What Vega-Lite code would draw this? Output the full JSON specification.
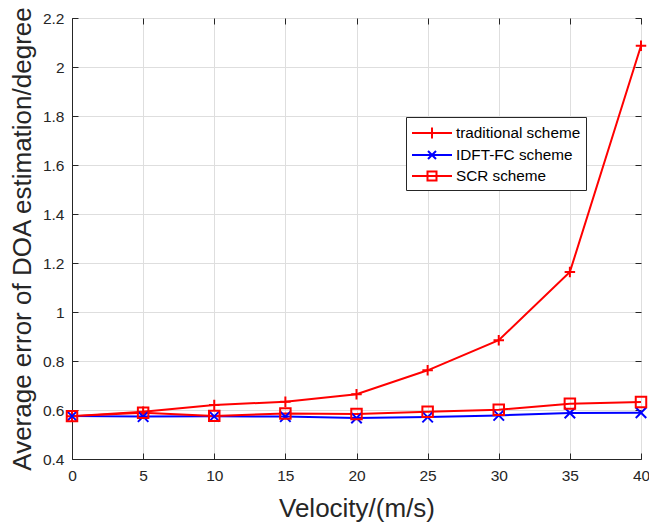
{
  "$schema": "https://vega.github.io/schema/vega-lite/v6.json",
  "width": 569,
  "height": 441,
  "autosize": "none",
  "padding": {"left": 72, "top": 18, "right": 8, "bottom": 66},
  "config": {
    "font": "Liberation Sans",
    "view": {"stroke": "#262626", "strokeWidth": 1},
    "axis": {
      "domainColor": "#262626",
      "tickColor": "#262626",
      "labelColor": "#262626",
      "titleColor": "#262626",
      "labelFontSize": 15.5,
      "titleFontSize": 26,
      "titleFontWeight": "normal",
      "tickSize": -6,
      "labelFlush": false,
      "gridColor": "#DEDEDE",
      "gridWidth": 1
    }
  },
  "data": {
    "values": [
      {"v": 0, "err": 0.575, "series": "traditional scheme"},
      {"v": 5, "err": 0.593, "series": "traditional scheme"},
      {"v": 10, "err": 0.620, "series": "traditional scheme"},
      {"v": 15, "err": 0.634, "series": "traditional scheme"},
      {"v": 20, "err": 0.664, "series": "traditional scheme"},
      {"v": 25, "err": 0.762, "series": "traditional scheme"},
      {"v": 30, "err": 0.885, "series": "traditional scheme"},
      {"v": 35, "err": 1.163, "series": "traditional scheme"},
      {"v": 40, "err": 2.087, "series": "traditional scheme"},
      {"v": 0, "err": 0.575, "series": "IDFT-FC scheme"},
      {"v": 5, "err": 0.573, "series": "IDFT-FC scheme"},
      {"v": 10, "err": 0.574, "series": "IDFT-FC scheme"},
      {"v": 15, "err": 0.573, "series": "IDFT-FC scheme"},
      {"v": 20, "err": 0.567, "series": "IDFT-FC scheme"},
      {"v": 25, "err": 0.571, "series": "IDFT-FC scheme"},
      {"v": 30, "err": 0.578, "series": "IDFT-FC scheme"},
      {"v": 35, "err": 0.588, "series": "IDFT-FC scheme"},
      {"v": 40, "err": 0.589, "series": "IDFT-FC scheme"},
      {"v": 0, "err": 0.575, "series": "SCR scheme"},
      {"v": 5, "err": 0.589, "series": "SCR scheme"},
      {"v": 10, "err": 0.576, "series": "SCR scheme"},
      {"v": 15, "err": 0.586, "series": "SCR scheme"},
      {"v": 20, "err": 0.584, "series": "SCR scheme"},
      {"v": 25, "err": 0.593, "series": "SCR scheme"},
      {"v": 30, "err": 0.601, "series": "SCR scheme"},
      {"v": 35, "err": 0.626, "series": "SCR scheme"},
      {"v": 40, "err": 0.633, "series": "SCR scheme"}
    ]
  },
  "resolve": {
    "axis": {"x": "independent", "y": "independent"},
    "scale": {"shape": "independent", "color": "independent"}
  },
  "layer": [
    {
      "mark": {"type": "line", "strokeWidth": 2},
      "encoding": {
        "x": {"field": "v", "type": "quantitative", "scale": {"domain": [0, 40], "nice": false},
          "axis": {"values": [0,5,10,15,20,25,30,35,40], "title": "Velocity/(m/s)", "titlePadding": 12, "labelPadding": 15}},
        "y": {"field": "err", "type": "quantitative", "scale": {"domain": [0.4, 2.2], "nice": false, "zero": false},
          "axis": {"values": [0.4,0.6,0.8,1,1.2,1.4,1.6,1.8,2,2.2], "format": "~g", "title": "Average error of DOA estimation/degree", "titlePadding": 7, "labelPadding": 14}},
        "color": {"field": "series", "type": "nominal",
          "scale": {"domain": ["traditional scheme", "IDFT-FC scheme", "SCR scheme"], "range": ["#FF0000", "#0000FF", "#FF0000"]},
          "legend": null}
      }
    },
    {
      "mark": {"type": "point", "filled": false, "strokeWidth": 2, "opacity": 1},
      "encoding": {
        "x": {"field": "v", "type": "quantitative", "axis": {"orient": "top", "values": [0,5,10,15,20,25,30,35,40], "labels": false, "grid": false, "title": null, "domain": false}},
        "y": {"field": "err", "type": "quantitative", "axis": {"orient": "right", "values": [0.4,0.6,0.8,1,1.2,1.4,1.6,1.8,2,2.2], "labels": false, "grid": false, "title": null, "domain": false}},
        "color": {"field": "series", "type": "nominal",
          "scale": {"domain": ["traditional scheme", "IDFT-FC scheme", "SCR scheme"], "range": ["#FF0000", "#0000FF", "#FF0000"]},
          "legend": null},
        "shape": {"field": "series", "type": "nominal",
          "scale": {"domain": ["traditional scheme", "IDFT-FC scheme", "SCR scheme"],
            "range": ["M-1,0L1,0M0,-1L0,1", "M-1,-1L1,1M-1,1L1,-1", "square"]},
          "legend": null},
        "size": {"value": 110}
      }
    },
    {
      "mark": {"type": "point", "filled": false, "strokeWidth": 2, "opacity": 0},
      "encoding": {
        "x": {"field": "v", "type": "quantitative", "axis": null},
        "y": {"field": "err", "type": "quantitative", "axis": null},
        "color": {"field": "series", "type": "nominal",
          "scale": {"domain": ["traditional scheme", "IDFT-FC scheme", "SCR scheme"], "range": ["#FF0000", "#0000FF", "#FF0000"]},
          "legend": {"title": null, "orient": "none", "legendX": 334, "legendY": 99,
            "symbolSize": 400, "symbolStrokeWidth": 2, "symbolOpacity": 1, "symbolFillColor": "transparent",
            "symbolOffset": 10,
            "labelFontSize": 15.3, "labelColor": "#000000", "labelOffset": 13,
            "fillColor": "white", "strokeColor": "#262626",
            "padding": 5, "rowPadding": 1}},
        "shape": {"field": "series", "type": "nominal",
          "scale": {"domain": ["traditional scheme", "IDFT-FC scheme", "SCR scheme"],
            "range": ["M-2,0L2,0M0,-0.55L0,0.55", "M-2,0L2,0M-0.4,-0.4L0.4,0.4M-0.4,0.4L0.4,-0.4", "M-2,0L2,0M-0.45,-0.45L0.45,-0.45L0.45,0.45L-0.45,0.45Z"]},
          "legend": {"title": null, "orient": "none", "legendX": 334, "legendY": 99,
            "symbolSize": 400, "symbolStrokeWidth": 2, "symbolOpacity": 1, "symbolFillColor": "transparent",
            "symbolOffset": 10,
            "labelFontSize": 15.3, "labelColor": "#000000", "labelOffset": 13,
            "fillColor": "white", "strokeColor": "#262626",
            "padding": 5, "rowPadding": 1}}
      }
    }
  ]
}
